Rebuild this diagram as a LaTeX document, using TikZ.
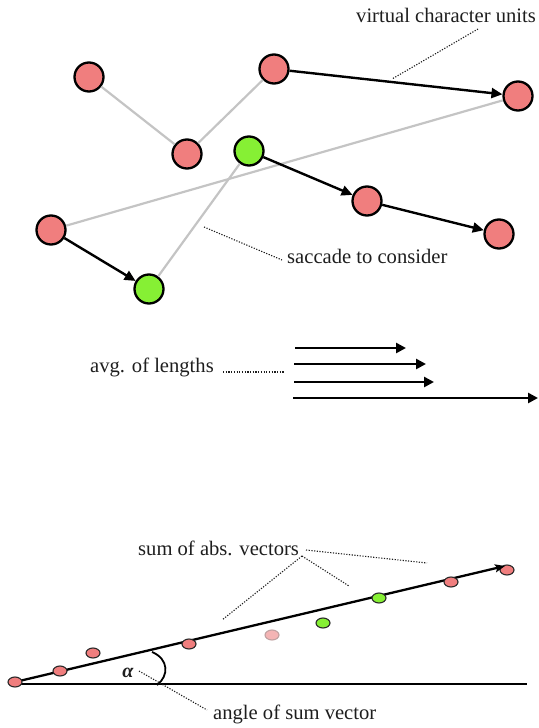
\documentclass[tikz,border=0pt]{standalone}
\usepackage{fontspec}
\setmainfont{Liberation Serif}
\usetikzlibrary{arrows.meta,shapes.geometric}
\definecolor{nodered}{HTML}{F07E7E}
\definecolor{nodegreen}{HTML}{86F034}
\definecolor{palered}{HTML}{F4B4B4}
\definecolor{paleedge}{HTML}{BFA0A0}
\definecolor{linegray}{HTML}{C4C4C4}
\definecolor{txt}{HTML}{1E1E1E}
\begin{document}
\begin{tikzpicture}[x=1pt,y=-1pt,
  bigred/.style={circle,draw=black,line width=2.3pt,fill=nodered,minimum size=29pt,inner sep=0pt},
  biggreen/.style={bigred,fill=nodegreen},
  grayline/.style={draw=linegray,line width=2.2pt},
  sacc/.style={draw=black,line width=2.4pt,-{Triangle[length=11pt,width=10pt]}},
  lenarrow/.style={draw=black,line width=2.5pt,-{Triangle[length=10pt,width=10pt]}},
  sumarrow/.style={draw=black,line width=2.3pt,-{Stealth[length=10pt,width=8pt,inset=2pt]}},
  baseline/.style={draw=black,line width=2.4pt},
  leader/.style={draw=txt,line width=1.1pt,dash pattern=on 1.2pt off 1.5pt},
  lbl/.style={font=\fontsize{20.6}{24}\selectfont,text=txt,inner sep=0pt,anchor=west},
  dot/.style={ellipse,draw=black!85,line width=1.1pt,fill=nodered,minimum width=14pt,minimum height=10pt,inner sep=0pt},
  greendot/.style={dot,fill=nodegreen},
  paledot/.style={dot,fill=palered,draw=paleedge}
]
\useasboundingbox (0,0) rectangle (538,728);

% ---------- top: saccades ----------
\node[bigred] (A) at (89,77) {};
\node[bigred] (B) at (187,154) {};
\node[bigred] (C) at (274,69) {};
\node[bigred] (D) at (518,96) {};
\node[biggreen] (E) at (249,151) {};
\node[bigred] (F) at (367,201) {};
\node[bigred] (G) at (499,234) {};
\node[bigred] (H) at (51,230) {};
\node[biggreen] (I) at (149,289) {};

\draw[grayline] (A) -- (B);
\draw[grayline] (B) -- (C);
\draw[grayline] (H) -- (D);
\draw[grayline] (E) -- (I);

\draw[sacc] (C) -- (D);
\draw[sacc] (E) -- (F);
\draw[sacc] (F) -- (G);
\draw[sacc] (H) -- (I);

\node[lbl] (vcu) at (356,15) {virtual character units};
\coordinate (vcuA) at (478,29);
\coordinate (vcuB) at (392,79);
\draw[leader] (vcuA) -- (vcuB);

\node[lbl] (sac) at (287,256) {saccade to consider};
\coordinate (sacA) at (204,227);
\coordinate (sacB) at (282,260);
\draw[leader] (sacA) -- (sacB);

% ---------- middle: lengths ----------
\coordinate (l1s) at (295,348); \coordinate (l1e) at (406,348);
\coordinate (l2s) at (294,364); \coordinate (l2e) at (426,364);
\coordinate (l3s) at (294,382); \coordinate (l3e) at (434,382);
\coordinate (l4s) at (293,398); \coordinate (l4e) at (538,398);
\draw[lenarrow] (l1s) -- (l1e);
\draw[lenarrow] (l2s) -- (l2e);
\draw[lenarrow] (l3s) -- (l3e);
\draw[lenarrow] (l4s) -- (l4e);

\node[lbl] (avg) at (90,367) {avg. of lengths};
\coordinate (avgA) at (223,372);
\coordinate (avgB) at (285,372);
\draw[leader] (avgA) -- (avgB);

% ---------- bottom: sum vector ----------
\coordinate (bl0) at (10,684);
\coordinate (bl1) at (527,684);
\draw[baseline] (bl0) -- (bl1);

\node[dot] (d9) at (507,570) {};
\coordinate (tip) at (505,566);
\coordinate (s0) at (15,682);
\draw[sumarrow] (s0) -- (tip);

\node[dot] (d1) at (15,682) {};
\node[dot] (d2) at (60,671) {};
\node[dot] (d3) at (93,653) {};
\node[dot] (d4) at (189,644) {};
\node[paledot] (d5) at (272,635) {};
\node[greendot] (d6) at (323,623) {};
\node[greendot] (d7) at (379,598) {};
\node[dot] (d8) at (451,582) {};

\coordinate (arcA) at (152,652);
\coordinate (arcB) at (157,685);
\draw[draw=black,line width=1.8pt] (arcA) .. controls (169,659) and (169,676) .. (arcB);

\node[font=\fontsize{20}{22}\selectfont\bfseries\itshape,inner sep=0pt,text=txt] (alpha) at (128,673) {α};
\coordinate (alA) at (139,671);
\coordinate (alB) at (207,710);
\draw[leader] (alA) -- (alB);
\node[lbl] (ang) at (213,714) {angle of sum vector};

\node[lbl] (sum) at (138,548) {sum of abs. vectors};
\coordinate (sumO) at (302,556);
\coordinate (sumP) at (222,620);
\coordinate (sumQ) at (349,586);
\coordinate (sumR) at (306,550);
\coordinate (sumS) at (427,563);
\draw[leader] (sumO) -- (sumP);
\draw[leader] (sumO) -- (sumQ);
\draw[leader] (sumR) -- (sumS);
\end{tikzpicture}
\end{document}
